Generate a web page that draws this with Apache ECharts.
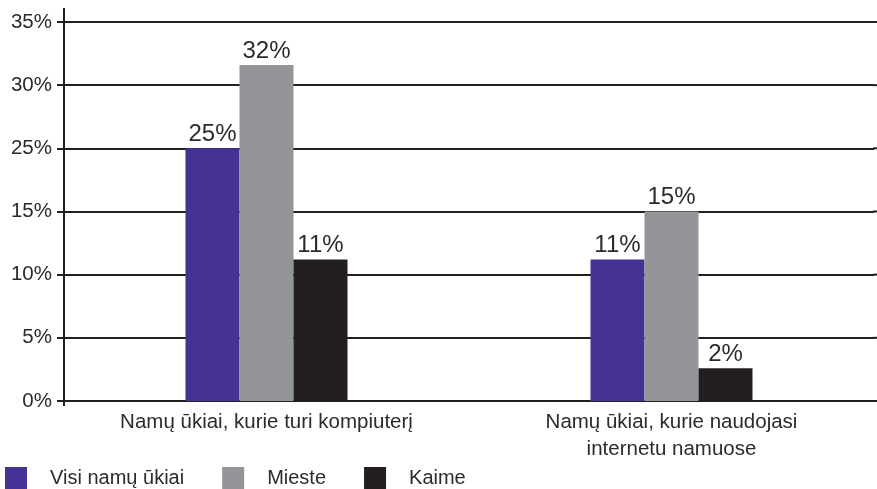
<!DOCTYPE html>
<html><head><meta charset="utf-8">
<script src="https://cdn.jsdelivr.net/npm/echarts@6/dist/echarts.min.js"></script>
<style>html,body{margin:0;padding:0;background:#fff}#c{width:877px;height:489px}</style>
</head><body><div id="c"></div>
<script>
// Categories
const categories = ["Namų ūkiai, kurie turi kompiuterį", "Namų ūkiai, kurie naudojasi\ninternetu namuose"];
// Y tick labels as printed in the original (note: no "20%")
const yTickLabels = ["0%", "5%", "10%", "15%", "25%", "30%", "35%"];
// Bar heights read in axis units (position on the drawn scale)
const visiValues = [20.0, 11.2];
const miesteValues = [26.6, 15.0];
const kaimeValues = [11.2, 2.6];
// Printed value labels
const visiLabels = ["25%", "11%"];
const miesteLabels = ["32%", "15%"];
const kaimeLabels = ["11%", "2%"];
const seriesNames = ["Visi namų ūkiai", "Mieste", "Kaime"];

const font = "'Liberation Sans', Arial, sans-serif";
const dark = "#231f20";
const txt = "#2b2b2b";
function mk(name, values, labels, color) {
  return {
    name, type: "bar", data: values, barWidth: 54, barGap: "0%",
    itemStyle: { color },
    label: { show: true, position: "top", distance: 2, color: txt, fontSize: 24, fontFamily: font,
      formatter: p => labels[p.dataIndex] },
    emphasis: { disabled: true }
  };
}
const chart = echarts.init(document.getElementById("c"));
chart.setOption({
  animation: false,
  grid: { left: 64, right: 3, top: 22, bottom: 88 },
  legend: {
    left: 5, top: 467, padding: 0, itemWidth: 22, itemHeight: 22, itemGap: 38, icon: "rect",
    textStyle: { fontSize: 20, color: txt, fontFamily: font, padding: [0, 0, 0, 18] },
    data: seriesNames
  },
  xAxis: {
    type: "category", data: categories,
    axisLine: { show: false }, axisTick: { show: false },
    axisLabel: { fontSize: 20.5, color: txt, fontFamily: font, margin: 8, lineHeight: 27 }
  },
  yAxis: {
    type: "value", min: 0, max: 30, interval: 5,
    axisLine: { show: true, lineStyle: { color: dark, width: 2 } },
    axisTick: { show: true, length: 7, lineStyle: { color: dark, width: 2 } },
    splitLine: { show: true, lineStyle: { color: dark, width: 2 } },
    axisLabel: { fontSize: 20.5, color: txt, fontFamily: font, margin: 12,
      formatter: (v) => yTickLabels[Math.round(v / 5)] }
  },
  series: [
    mk(seriesNames[0], visiValues, visiLabels, "#453294"),
    mk(seriesNames[1], miesteValues, miesteLabels, "#939598"),
    mk(seriesNames[2], kaimeValues, kaimeLabels, "#231f20")
  ]
});
// extend the y axis line slightly above the top gridline and below, and gridlines to the right edge
const pTop = chart.convertToPixel({ gridIndex: 0 }, [0, 30]);
const pBot = chart.convertToPixel({ gridIndex: 0 }, [0, 0]);
const grid = chart.getModel().getComponent('grid').coordinateSystem.getRect();
const extras = [{ type: 'line', shape: { x1: grid.x, y1: pTop[1] - 14, x2: grid.x, y2: pBot[1] + 5 },
  style: { stroke: dark, lineWidth: 2 }, silent: true }];
yTickLabels.forEach((_, i) => {
  const y = chart.convertToPixel({ gridIndex: 0 }, [0, i * 5])[1];
  extras.push({ type: 'line', shape: { x1: grid.x + grid.width - 1, y1: y, x2: 877, y2: y },
    style: { stroke: dark, lineWidth: 2 }, silent: true });
});
chart.setOption({ graphic: extras });
</script>
</body></html>
